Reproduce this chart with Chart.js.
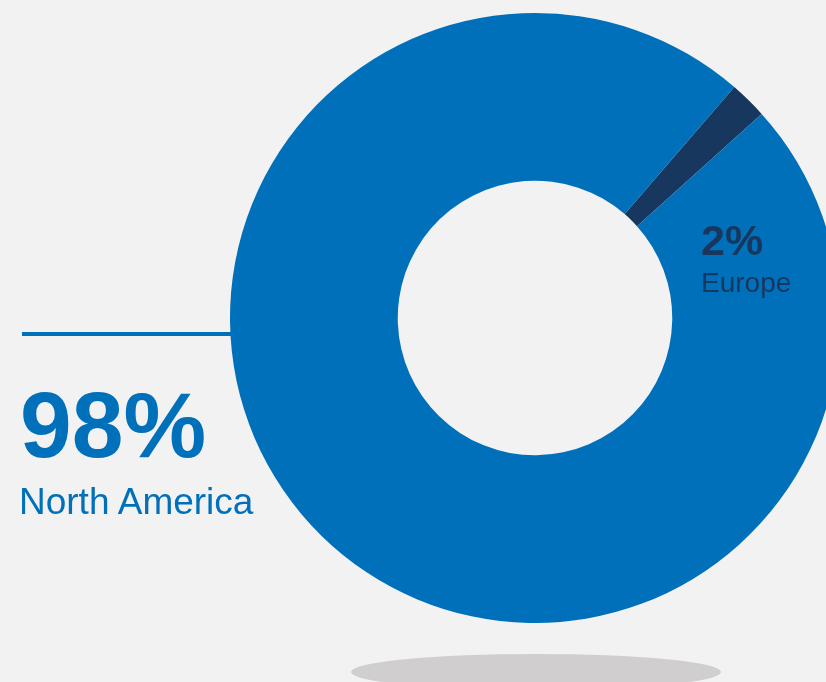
<!DOCTYPE html>
<html>
<head>
<meta charset="utf-8">
<script src="https://cdn.jsdelivr.net/npm/chart.js@4"></script>
<style>
  html, body { margin: 0; padding: 0; background: #f2f2f2; width: 826px; height: 682px; overflow: hidden; }
  #wrap { position: absolute; left: 0; top: 0; width: 840px; height: 682px; }
  .lbl { position: absolute; font-family: "Liberation Sans", Arial, sans-serif; line-height: 1; white-space: nowrap; }
  #naPct { left: 20px; top: 379px; font-size: 93px; font-weight: bold; color: #0070ba; }
  #naName { left: 19px; top: 483px; font-size: 37px; color: #0070ba; }
  #euPct { left: 701px; top: 219px; font-size: 43px; font-weight: bold; color: #17375e; }
  #euName { left: 701px; top: 269px; font-size: 28px; color: #17375e; }
</style>
</head>
<body>
<div id="wrap"><canvas id="c"></canvas></div>
<div class="lbl" id="naPct"></div>
<div class="lbl" id="naName"></div>
<div class="lbl" id="euPct"></div>
<div class="lbl" id="euName"></div>
<script>
// Regional split of the total
const regions = ['Europe', 'North America'];
const shares = [2, 98];
const sliceColors = ['#17375e', '#0070ba'];

document.getElementById('euPct').textContent = shares[0] + '%';
document.getElementById('euName').textContent = regions[0];
document.getElementById('naPct').textContent = shares[1] + '%';
document.getElementById('naName').textContent = regions[1];

// Leader line to the left of the ring and the soft shadow under it
const decor = {
  id: 'decor',
  beforeDatasetsDraw(chart) {
    const ctx = chart.ctx;
    const arc = chart.getDatasetMeta(0).data[0];
    const cx = arc.x, cy = arc.y, r = arc.outerRadius;
    ctx.save();
    // shadow ellipse
    ctx.fillStyle = '#d0cece';
    ctx.beginPath();
    ctx.ellipse(cx + 1, cy + r + 49, 185, 18, 0, 0, Math.PI * 2);
    ctx.fill();
    // leader line
    ctx.strokeStyle = '#0070ba';
    ctx.lineWidth = 4;
    ctx.beginPath();
    ctx.moveTo(22, cy + 16);
    ctx.lineTo(cx - r + 4, cy + 16);
    ctx.stroke();
    ctx.restore();
  }
};

new Chart(document.getElementById('c'), {
  type: 'doughnut',
  data: {
    labels: regions,
    datasets: [{
      data: shares,
      backgroundColor: sliceColors,
      borderWidth: 0
    }]
  },
  options: {
    responsive: true,
    maintainAspectRatio: false,
    animation: false,
    rotation: 40.8,
    cutout: '45%',
    layout: { padding: { left: 230, top: 13, right: 0, bottom: 59 } },
    plugins: { legend: { display: false }, tooltip: { enabled: false } }
  },
  plugins: [decor]
});
</script>
</body>
</html>
